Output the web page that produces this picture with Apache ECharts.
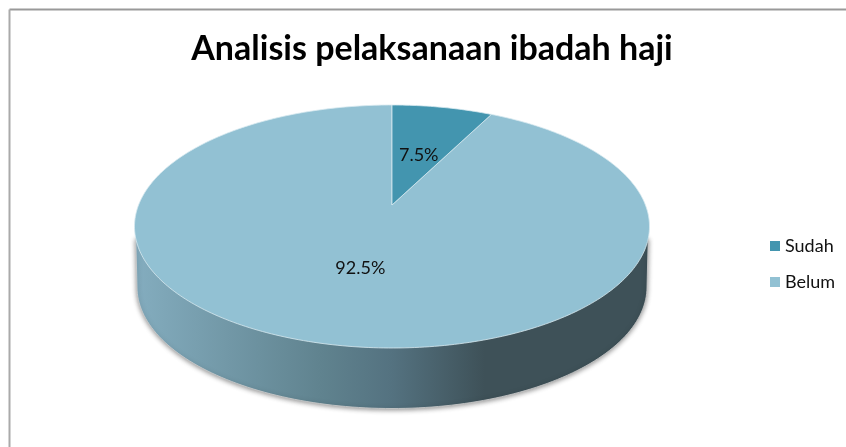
<!DOCTYPE html>
<html>
<head>
<meta charset="utf-8">
<style>html,body{margin:0;padding:0;background:#fff}#c{width:846px;height:447px}</style>
<script src="https://cdn.jsdelivr.net/npm/echarts@6/dist/echarts.min.js"></script>
</head>
<body>
<div id="c"></div>
<script>
const titleText = 'Analisis pelaksanaan ibadah haji';
const categories = ['Sudah', 'Belum'];
const values = [7.5, 92.5];
const labels = ['7.5%', '92.5%'];
const colors = ['#4395AF', '#92C1D3'];

// Tilted-disc projection of the pie
const cx = 392, cy = 226.5, rx = 257.5, ry = 121.5, tilt = -0.177;
const depth = 60.5, rxBottom = 255;
const total = values.reduce((a, b) => a + b, 0);

function project(angle, r) {
  const x = r * Math.sin(angle), y = -r * Math.cos(angle);
  const w = 1 + tilt * y;
  const px = x * Math.sqrt(1 - tilt * tilt) / w;
  const py = (y + tilt) / w;
  return [cx + rx * px, cy + ry * py];
}
function sliceAngles(i) {
  const before = values.slice(0, i).reduce((a, b) => a + b, 0);
  return [before / total * 2 * Math.PI, (before + values[i]) / total * 2 * Math.PI];
}
function renderSlice(i) {
  return function () {
    const [a0, a1] = sliceAngles(i);
    const pts = [project(0, 0)];
    const n = Math.max(8, Math.ceil((a1 - a0) * 60));
    for (let k = 0; k <= n; k++) pts.push(project(a0 + (a1 - a0) * k / n, 1));
    const p = project((a0 + a1) / 2, 0.49);
    return {
      type: 'group',
      children: [
        { type: 'polygon', shape: { points: pts },
          style: { fill: colors[i], stroke: '#D8EAF0', lineWidth: 0.8, lineJoin: 'round' } },
        { type: 'text', z2: 10,
          style: { x: p[0], y: p[1] + 2, text: labels[i], fill: '#111', align: 'center',
            verticalAlign: 'middle', font: '18px Lato' } }
      ]
    };
  };
}
function renderWall() {
  const pts = [];
  const n = 120;
  const inset = rx * (1 - Math.sqrt(1 - Math.pow(12 / ry, 2)));
  pts.push([cx - rx + inset, cy + 12]);
  for (let k = 0; k <= n; k++) {
    const t = Math.PI * k / n;
    pts.push([cx - rxBottom * Math.cos(t), cy + depth + ry * Math.sin(t)]);
  }
  pts.push([cx + rx - inset, cy + 12]);
  return {
    type: 'polygon', shape: { points: pts },
    style: {
      fill: { type: 'linear', global: true, x: cx - rx, y: 0, x2: cx + rx, y2: 0,
        colorStops: [
          { offset: 0, color: '#84ADBF' },
          { offset: 0.36, color: '#60838F' },
          { offset: 0.5, color: '#547280' },
          { offset: 0.68, color: '#3E5158' },
          { offset: 1, color: '#3E5158' }
        ] },
      stroke: '#CFCFCF', lineWidth: 0.8,
      shadowBlur: 5, shadowColor: 'rgba(0,0,0,0.45)', shadowOffsetX: 0, shadowOffsetY: 1
    }
  };
}

const chart = echarts.init(document.getElementById('c'), null, { renderer: 'canvas' });
chart.setOption({
  animation: false,
  backgroundColor: '#fff',
  title: {
    text: titleText, left: 427, top: 27, textAlign: 'center',
    textStyle: { fontFamily: 'Lato', fontWeight: 'bold', fontSize: 34, color: '#000' }
  },
  legend: {
    data: categories, orient: 'vertical', left: 770, top: 237, padding: 0,
    icon: 'rect', itemWidth: 10, itemHeight: 10, itemGap: 18,
    textStyle: { fontFamily: 'Lato', fontSize: 18, color: '#111' },
    selectedMode: false
  },
  graphic: [
    { type: 'line', shape: { x1: 9.5, y1: 9.5, x2: 846, y2: 9.5 }, style: { stroke: '#999', lineWidth: 2 } },
    { type: 'line', shape: { x1: 9.5, y1: 9.5, x2: 9.5, y2: 447 }, style: { stroke: '#AAA', lineWidth: 2 } }
  ],
  series: [
    { type: 'custom', name: 'wall', coordinateSystem: 'none', data: [total], renderItem: renderWall, silent: true, z: 1 },
    { type: 'custom', name: categories[1], coordinateSystem: 'none', data: [values[1]], renderItem: renderSlice(1),
      itemStyle: { color: colors[1] }, z: 2 },
    { type: 'custom', name: categories[0], coordinateSystem: 'none', data: [values[0]], renderItem: renderSlice(0),
      itemStyle: { color: colors[0] }, z: 3 }
  ]
});
</script>
</body>
</html>
